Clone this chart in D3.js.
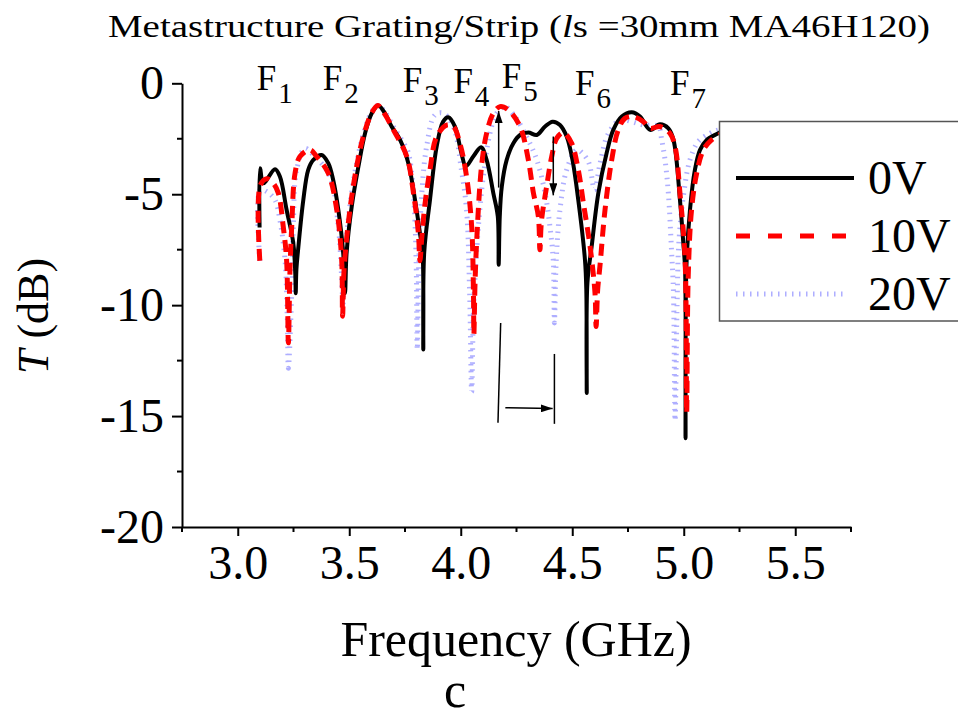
<!DOCTYPE html>
<html>
<head>
<meta charset="utf-8">
<script src="https://cdn.jsdelivr.net/npm/d3@7"></script>
<style>
  body { margin: 0; background: #fff; }
  text { font-family: "Liberation Serif", "Times New Roman", serif; fill: #000; }
</style>
</head>
<body>
<script>
// ---- data (GHz, dB) ----
const freq0 = [3.098,3.100,3.115,3.167,3.189,3.219,3.249,3.258,3.260,3.263,3.272,3.294,3.316,3.339,3.376,3.406,3.428,3.451,3.473,3.481,3.488,3.511,3.541,3.571,3.601,3.630,3.660,3.690,3.728,3.765,3.795,3.817,3.829,3.832,3.836,3.862,3.892,3.921,3.944,3.974,4.003,4.023,4.056,4.091,4.116,4.146,4.166,4.170,4.175,4.184,4.206,4.236,4.266,4.303,4.341,4.378,4.412,4.445,4.475,4.500,4.527,4.557,4.563,4.565,4.568,4.587,4.617,4.654,4.684,4.722,4.767,4.804,4.849,4.893,4.931,4.954,4.983,4.998,5.006,5.008,5.012,5.028,5.050,5.073,5.103,5.155,5.200];
const db0   = [-6.5,-3.83,-4.5,-3.87,-4.2,-5.7,-7.2,-8.6,-9.46,-8.4,-7.36,-5.26,-3.9,-3.45,-3.23,-3.6,-4.36,-5.7,-7.66,-9.46,-7.66,-5.56,-3.76,-2.25,-1.35,-1.0,-1.35,-1.95,-2.55,-3.6,-5.26,-6.76,-7.66,-12.0,-7.66,-5.26,-2.85,-1.73,-1.53,-1.95,-3.15,-3.73,-3.3,-2.88,-3.45,-4.95,-6.0,-8.18,-6.0,-4.66,-3.45,-2.7,-2.33,-2.22,-2.33,-1.95,-1.73,-1.88,-2.4,-3.4,-5.26,-7.96,-9.3,-13.96,-9.0,-7.36,-4.95,-3.15,-2.1,-1.5,-1.31,-1.5,-2.1,-1.85,-2.03,-2.55,-5.26,-7.2,-8.4,-16.0,-8.26,-5.7,-3.9,-3.0,-2.55,-2.25,-2.0];

const freq10 = [3.099,3.101,3.130,3.159,3.182,3.204,3.219,3.227,3.234,3.242,3.257,3.279,3.324,3.354,3.406,3.444,3.466,3.470,3.478,3.503,3.533,3.563,3.600,3.628,3.660,3.698,3.758,3.788,3.810,3.817,3.825,3.839,3.862,3.892,3.937,3.967,3.996,4.026,4.049,4.057,4.059,4.064,4.071,4.093,4.116,4.146,4.176,4.213,4.266,4.303,4.326,4.348,4.355,4.362,4.385,4.408,4.430,4.460,4.497,4.527,4.550,4.580,4.602,4.607,4.614,4.624,4.647,4.677,4.706,4.736,4.774,4.819,4.849,4.893,4.938,4.961,4.983,5.006,5.013,5.020,5.035,5.058,5.088,5.125,5.200];
const db10   = [-8.0,-4.6,-4.3,-4.5,-4.95,-6.46,-7.96,-11.7,-8.5,-6.46,-4.05,-3.3,-3.0,-3.3,-4.05,-5.7,-7.96,-10.5,-8.2,-5.7,-3.76,-2.4,-1.35,-1.0,-1.4,-2.1,-3.3,-4.95,-6.76,-8.0,-7.0,-5.5,-3.9,-2.4,-1.88,-1.95,-2.7,-4.2,-6.46,-9.46,-11.3,-9.0,-7.2,-3.76,-2.25,-1.35,-1.05,-1.2,-1.95,-3.45,-4.95,-6.0,-7.5,-6.2,-4.66,-3.3,-2.48,-2.22,-2.7,-3.9,-5.4,-7.36,-9.46,-10.96,-9.3,-8.26,-5.7,-3.45,-2.1,-1.58,-1.5,-1.73,-2.03,-1.95,-2.25,-2.85,-4.95,-7.96,-14.86,-8.7,-5.7,-4.05,-3.0,-2.55,-2.1];

const freq20 = [3.099,3.101,3.130,3.167,3.189,3.212,3.222,3.227,3.242,3.249,3.264,3.301,3.339,3.414,3.451,3.469,3.472,3.480,3.503,3.533,3.563,3.600,3.628,3.660,3.698,3.760,3.772,3.790,3.800,3.805,3.812,3.825,3.847,3.884,3.921,3.967,4.003,4.026,4.040,4.049,4.058,4.079,4.101,4.131,4.161,4.198,4.243,4.295,4.341,4.378,4.400,4.415,4.420,4.428,4.445,4.475,4.520,4.550,4.575,4.600,4.625,4.660,4.714,4.767,4.819,4.886,4.901,4.916,4.931,4.945,4.954,4.961,4.970,4.978,5.000,5.028,5.065,5.118,5.155,5.200];
const db20   = [-8.0,-4.8,-4.88,-5.26,-6.16,-7.96,-10.5,-12.84,-9.46,-6.46,-3.9,-2.93,-3.23,-4.2,-6.46,-9.46,-10.0,-8.0,-5.5,-3.6,-2.3,-1.3,-1.0,-1.3,-1.95,-3.0,-3.45,-5.3,-8.0,-12.0,-8.0,-5.0,-2.85,-1.43,-1.35,-1.95,-3.9,-5.7,-9.46,-13.9,-10.0,-6.46,-4.2,-2.25,-1.35,-1.05,-1.5,-2.4,-3.45,-4.95,-6.46,-8.0,-10.8,-8.0,-5.7,-3.9,-3.0,-3.2,-3.6,-4.8,-3.6,-2.3,-1.65,-1.73,-1.88,-1.95,-2.55,-3.45,-4.95,-7.5,-9.46,-15.2,-10.0,-7.2,-4.95,-3.45,-2.63,-2.25,-2.1,-2.0];

const seriesNames = ["0V", "10V", "20V"];
const xTicks = [3.0, 3.5, 4.0, 4.5, 5.0, 5.5];
const xMinor = [2.75, 3.25, 3.75, 4.25, 4.75, 5.25, 5.75];
const yTicks = [-20, -15, -10, -5, 0];
const yMinor = [-17.5, -12.5, -7.5, -2.5];

// resonance labels F1..F7 (frequency of label, label baseline in dB)
const fNames = ["1", "2", "3", "4", "5", "6", "7"];
const fFreq  = [3.085, 3.381, 3.740, 3.967, 4.184, 4.512, 4.938];
const fDb    = [-0.30, -0.30, -0.38, -0.45, -0.23, -0.53, -0.53];

const width = 958, height = 718;
const svg = d3.select("body").append("svg")
    .attr("width", width)
    .attr("height", height)
    .style("background", "#fff");

const x = d3.scaleLinear().domain([2.75, 5.75]).range([182, 851]);
const y = d3.scaleLinear().domain([-20, 0]).range([527, 83.3]);

// arrow head
svg.append("defs").append("marker")
    .attr("id", "head")
    .attr("markerUnits", "userSpaceOnUse")
    .attr("viewBox", "0 0 12 8")
    .attr("refX", 12).attr("refY", 4)
    .attr("markerWidth", 12).attr("markerHeight", 8)
    .attr("orient", "auto")
  .append("path")
    .attr("d", "M0,0L12,4L0,8Z")
    .attr("fill", "#000");

// title
const title = svg.append("text")
    .attr("x", 108).attr("y", 37)
    .attr("font-size", 32)
    .attr("textLength", 822)
    .attr("lengthAdjust", "spacingAndGlyphs");
title.append("tspan").text("Metastructure Grating/Strip (");
title.append("tspan").attr("font-style", "italic").text("l");
title.append("tspan").text("s =30mm MA46H120)");

// axes
const gx = svg.append("g").attr("transform", "translate(0,527)")
    .call(d3.axisBottom(x).tickValues(xTicks).tickSize(9).tickSizeOuter(0)
        .tickPadding(8).tickFormat(d3.format(".1f")));
gx.append("g").selectAll("line").data(xMinor).join("line")
    .attr("x1", d => x(d)).attr("x2", d => x(d))
    .attr("y1", 0).attr("y2", 5).attr("stroke", "#000").attr("stroke-width", 2);

const gy = svg.append("g").attr("transform", "translate(182,0)")
    .call(d3.axisLeft(y).tickValues(yTicks).tickSize(10).tickSizeOuter(0)
        .tickPadding(8).tickFormat(d => d === 0 ? "0" : "-" + Math.abs(d)));
gy.append("g").selectAll("line").data(yMinor).join("line")
    .attr("y1", d => y(d)).attr("y2", d => y(d))
    .attr("x1", 0).attr("x2", -5).attr("stroke", "#000").attr("stroke-width", 2);

svg.selectAll(".domain, .tick line").attr("stroke", "#000").attr("stroke-width", 2);
svg.selectAll(".tick text")
    .attr("font-family", "Liberation Serif, Times New Roman, serif")
    .attr("font-size", 48).attr("fill", "#000");
gx.selectAll(".tick text").attr("dy", "0.72em");

// axis titles
svg.append("text")
    .attr("x", 516).attr("y", 656)
    .attr("text-anchor", "middle")
    .attr("font-size", 50)
    .text("Frequency (GHz)");

const yl = svg.append("text")
    .attr("transform", "translate(48,316) rotate(-90)")
    .attr("text-anchor", "middle")
    .attr("font-size", 44);
yl.append("tspan").attr("font-style", "italic").text("T");
yl.append("tspan").text(" (dB)");

svg.append("text")
    .attr("x", 455).attr("y", 707)
    .attr("text-anchor", "middle")
    .attr("font-size", 50)
    .text("c");

// curves
const line = d3.line()
    .x(d => x(d[0])).y(d => y(d[1]))
    .curve(d3.curveCatmullRom.alpha(0.5));

const styles = [
  { color: "#000", width: 4, dash: null, opacity: 1 },
  { color: "#ff0000", width: 5, dash: "12,7", opacity: 1 },
  { color: "#6b6bff", width: 5, dash: "1.5,5.5", opacity: 0.55 }
];
const series = [
  d3.zip(freq0, db0),
  d3.zip(freq10, db10),
  d3.zip(freq20, db20)
];

// draw 20V first, then 0V, then 10V on top
[2, 0, 1].forEach(i => {
  svg.append("path")
      .datum(series[i])
      .attr("d", line)
      .attr("fill", "none")
      .attr("stroke", styles[i].color)
      .attr("stroke-width", styles[i].width)
      .attr("stroke-dasharray", styles[i].dash)
      .attr("stroke-opacity", styles[i].opacity)
      .attr("stroke-linejoin", "round");
});

// resonance labels
fNames.forEach((n, i) => {
  const t = svg.append("text")
      .attr("x", x(fFreq[i])).attr("y", y(fDb[i]))
      .attr("font-size", 35);
  t.append("tspan").text("F");
  t.append("tspan").attr("font-size", 29).attr("dx", 2).attr("dy", 13).text(n);
});

// annotations (arrows)
const arrow = (f1, d1, f2, d2, head) => {
  svg.append("line")
      .attr("x1", x(f1)).attr("y1", y(d1))
      .attr("x2", x(f2)).attr("y2", y(d2))
      .attr("stroke", "#000").attr("stroke-width", 1.5)
      .attr("marker-end", head ? "url(#head)" : null);
};
arrow(4.170, -4.7, 4.170, -1.25, true);
arrow(4.415, -2.4, 4.415, -5.05, true);
arrow(4.179, -10.8, 4.167, -15.3, false);
arrow(4.420, -12.2, 4.420, -15.35, false);
arrow(4.200, -14.62, 4.412, -14.66, true);

// legend
const lg = svg.append("g");
lg.append("rect")
    .attr("x", 719.5).attr("y", 121.5)
    .attr("width", 260).attr("height", 199.5)
    .attr("fill", "#fff").attr("stroke", "#555").attr("stroke-width", 1.5);
const legY = [178, 236, 294];
const legDash = [null, "14,18", "1.5,5.5"];
seriesNames.forEach((name, i) => {
  lg.append("line")
      .attr("x1", 736).attr("x2", i === 0 ? 854 : 848)
      .attr("y1", legY[i]).attr("y2", legY[i])
      .attr("stroke", styles[i].color)
      .attr("stroke-width", styles[i].width)
      .attr("stroke-dasharray", legDash[i])
      .attr("stroke-opacity", styles[i].opacity);
  lg.append("text")
      .attr("x", 868).attr("y", legY[i] + 16)
      .attr("font-size", 48)
      .text(name);
});
</script>
</body>
</html>
